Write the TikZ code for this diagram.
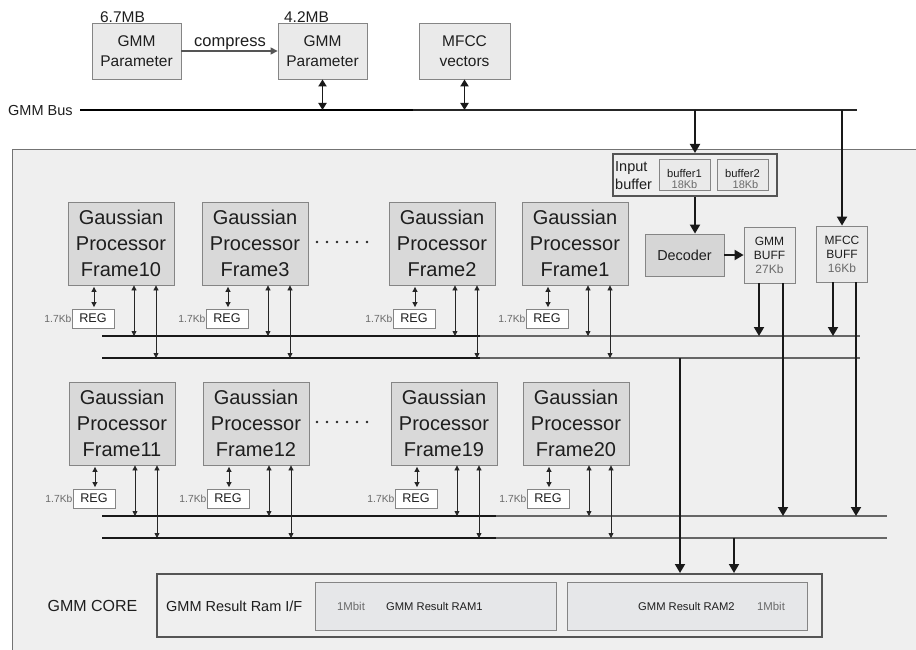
\documentclass[tikz,border=0pt]{standalone}
\usepackage{fontspec}
\setmainfont{Liberation Sans}
\usetikzlibrary{arrows.meta,calc}
\definecolor{txt}{HTML}{1E1E1E}
\definecolor{graytxt}{HTML}{6A6A6A}
\definecolor{corefill}{HTML}{EFEFEF}
\definecolor{procfill}{HTML}{D9D9D9}
\definecolor{lightfill}{HTML}{EAEAEA}
\definecolor{ramfill}{HTML}{E6E7E9}
\definecolor{decfill}{HTML}{D6D6D6}
\definecolor{bord}{HTML}{858585}
\definecolor{darkbord}{HTML}{555555}
\begin{document}
\begin{tikzpicture}[x=1pt,y=-1pt,
  box/.style={draw=bord, line width=0.8pt, inner sep=0pt, align=center, text=txt},
  proc/.style={box, fill=procfill, minimum width=106pt, minimum height=83pt, font=\fontsize{20}{26}\selectfont},
  topbox/.style={box, fill=lightfill, minimum width=89pt, minimum height=56pt, font=\fontsize{15.5}{20}\selectfont},
  reg/.style={box, fill=white, minimum width=42pt, minimum height=19pt, font=\fontsize{12.6}{14}\selectfont},
  small/.style={text=graytxt, inner sep=0pt, font=\fontsize{10.3}{12}\selectfont},
  plain/.style={text=txt, inner sep=0pt},
  big/.style={line width=1.9pt, draw=black!90, -{Triangle[length=9pt,width=10pt]}},
  bigdbl/.style={line width=1.8pt, draw=black!90, {Triangle[length=7pt,width=8pt]}-{Triangle[length=7pt,width=8pt]}},
  dbl/.style={line width=0.8pt, draw=black!85, {Triangle[length=5pt,width=5pt]}-{Triangle[length=5pt,width=5pt]}},
  busthick/.style={line width=1.6pt, draw=black!90},
  busthin/.style={line width=1.1pt, draw=black!60},
]
\useasboundingbox (0,0) rectangle (916,650);
\fill[white] (0,0) rectangle (916,650);

% ---------- top part ----------
\node[topbox] (gp1) at (136.5,51) {GMM\\Parameter};
\node[topbox] (gp2) at (322.5,51) {GMM\\Parameter};
\node[topbox, minimum width=91pt] (mfv) at (464.5,51) {MFCC\\vectors};
\node[plain, anchor=base, font=\fontsize{15.5}{18}\selectfont] (s67) at (122.5,23) {6.7MB};
\node[plain, anchor=base, font=\fontsize{15.5}{18}\selectfont] (s42) at (306.5,23) {4.2MB};
\draw[line width=1.3pt, draw=darkbord, -{Triangle[length=7pt,width=7pt]}] (gp1.east) -- (gp2.west);
\node[plain, anchor=base, font=\fontsize{16.5}{18}\selectfont] (cmp) at (230,47) {compress};

\node[plain, anchor=base west, font=\fontsize{14.5}{16}\selectfont] (busl) at (8,116) {GMM Bus};
\coordinate (busL) at (80,110);
\coordinate (busM) at (413,110);
\coordinate (busR) at (857,110);
\draw[line width=2pt, draw=black] (busL) -- (busM);
\draw[line width=1.5pt, draw=black!85] (busM) -- (busR);
\draw[bigdbl] (gp2.south) -- (gp2.south |- busL);
\draw[bigdbl] (mfv.south) -- (mfv.south |- busL);

% ---------- core area ----------
\filldraw[fill=corefill, draw=black!55, line width=1pt] (12,150) rectangle (935,670);

% input buffer
\node[box, draw=darkbord, line width=2pt, fill=corefill, minimum width=164pt, minimum height=42pt] (ib) at (695,175) {};
\node[plain, anchor=west, align=left, font=\fontsize{14.5}{18}\selectfont] (ibl) at (615,176) {Input\\buffer};
\node[box, fill=lightfill, minimum width=51pt, minimum height=31pt] (bf1) at (684.5,174.5) {};
\node[box, fill=lightfill, minimum width=51pt, minimum height=31pt] (bf2) at (742.5,174.5) {};
\node[plain, anchor=base, font=\fontsize{11.2}{12}\selectfont] (bf1a) at (684.5,178) {buffer1};
\node[small, anchor=base, font=\fontsize{11}{12}\selectfont] (bf1b) at (684.5,189) {18Kb};
\node[plain, anchor=base, font=\fontsize{11.2}{12}\selectfont] (bf2a) at (742.5,178) {buffer2};
\node[small, anchor=base, font=\fontsize{11}{12}\selectfont] (bf2b) at (745.5,189) {18Kb};

\draw[big] (busR -| ib.north) -- (ib.north);

\node[box, fill=decfill, minimum width=79pt, minimum height=42pt, font=\fontsize{14.4}{16}\selectfont] (dec) at (684.5,255) {Decoder};
\node[box, fill=lightfill, minimum width=51pt, minimum height=56pt, font=\fontsize{12}{14}\selectfont] (gbuf) at (769.5,255) {GMM\\BUFF\\\textcolor{graytxt}{27Kb}};
\node[box, fill=lightfill, minimum width=51pt, minimum height=56pt, font=\fontsize{12}{14}\selectfont] (mbuf) at (842,254) {MFCC\\BUFF\\\textcolor{graytxt}{16Kb}};

\draw[big] (ib.south) -- (ib.south |- dec.north);
\draw[big] (dec.east) -- (gbuf.west);
\draw[big] (busR -| mbuf.north) -- (mbuf.north);

% bus lines of the processor rows
\coordinate (t1) at (102,336); \coordinate (t1m) at (480,336); \coordinate (t1e) at (860,336);
\coordinate (t2) at (102,358); \coordinate (t2m) at (480,358); \coordinate (t2e) at (860,358);
\coordinate (b1) at (102,516); \coordinate (b1m) at (496,516); \coordinate (b1e) at (887,516);
\coordinate (b2) at (102,538); \coordinate (b2m) at (496,538); \coordinate (b2e) at (887,538);
\draw[busthick] (t1) -- (t1m); \draw[busthin] (t1m) -- (t1e);
\draw[busthick] (t2) -- (t2m); \draw[busthin] (t2m) -- (t2e);
\draw[busthick] (b1) -- (b1m); \draw[busthin] (b1m) -- (b1e);
\draw[busthick] (b2) -- (b2m); \draw[busthin] (b2m) -- (b2e);

% processors
\foreach \nm/\L/\T/\lab/\la/\lb in {f10/68/202/Frame10/t1/t2, f3/202/202/Frame3/t1/t2, f2/389/202/Frame2/t1/t2, f1/522/202/Frame1/t1/t2,
  f11/69/382/Frame11/b1/b2, f12/203/382/Frame12/b1/b2, f19/391/382/Frame19/b1/b2, f20/523/382/Frame20/b1/b2}{
  \node[proc] (\nm) at (\L+53,\T+41.5) {Gaussian\\Processor\\\lab};
  \node[reg] (\nm r) at (\L+25,\T+116.5) {REG};
  \node[small, anchor=east] (\nm k) at (\nm r.west) {1.7Kb};
  \draw[dbl, shorten <=1.5pt, shorten >=1.5pt] ($(\nm r.north |- \nm.south)+(1,0)$) -- ($(\nm r.north)+(1,0)$);
  \draw[dbl] ($(\nm.south)+(13,0)$) -- ($(\nm.south |- \la)+(13,0)$);
  \draw[dbl] ($(\nm.south)+(35,0)$) -- ($(\nm.south |- \lb)+(35,0)$);
}
\foreach \i in {0,...,5}{
  \fill[black!85] (317+\i*10,242) circle (1.4);
  \fill[black!85] (317+\i*10,422) circle (1.4);
}

% buffer outputs
\draw[big] ($(gbuf.south)+(-10.5,0)$) -- ($(gbuf.south |- t1)+(-10.5,0)$);
\draw[big] ($(gbuf.south)+(13.5,0)$) -- ($(gbuf.south |- b1)+(13.5,0)$);
\draw[big] ($(mbuf.south)+(-9,0)$) -- ($(mbuf.south |- t1)+(-9,0)$);
\draw[big] ($(mbuf.south)+(14,0)$) -- ($(mbuf.south |- b1)+(14,0)$);

% GMM core
\node[box, draw=darkbord, line width=2pt, fill=corefill, minimum width=665pt, minimum height=63pt] (core) at (489.5,605.5) {};
\node[box, fill=ramfill, minimum width=241pt, minimum height=48pt] (ram1) at (435.5,606) {};
\node[box, fill=ramfill, minimum width=240pt, minimum height=48pt] (ram2) at (687,606) {};
\node[plain, font=\fontsize{16}{18}\selectfont] (corel) at (92.5,606) {GMM CORE};
\node[plain, anchor=west, font=\fontsize{14.5}{16}\selectfont] (ramif) at (166,606) {GMM Result Ram I/F};
\node[small, font=\fontsize{11.4}{12}\selectfont] (mb1) at (351,606) {1Mbit};
\node[plain, anchor=west, font=\fontsize{11.2}{12}\selectfont] (r1l) at (386,606) {GMM Result RAM1};
\node[plain, anchor=west, font=\fontsize{11.2}{12}\selectfont] (r2l) at (638,606) {GMM Result RAM2};
\node[small, font=\fontsize{11.4}{12}\selectfont] (mb2) at (771,606) {1Mbit};

\coordinate (c1) at (680,358);
\coordinate (c2) at (734,538);
\draw[big] (c1) -- (c1 |- core.north);
\draw[big] (c2) -- (c2 |- core.north);
\end{tikzpicture}
\end{document}
